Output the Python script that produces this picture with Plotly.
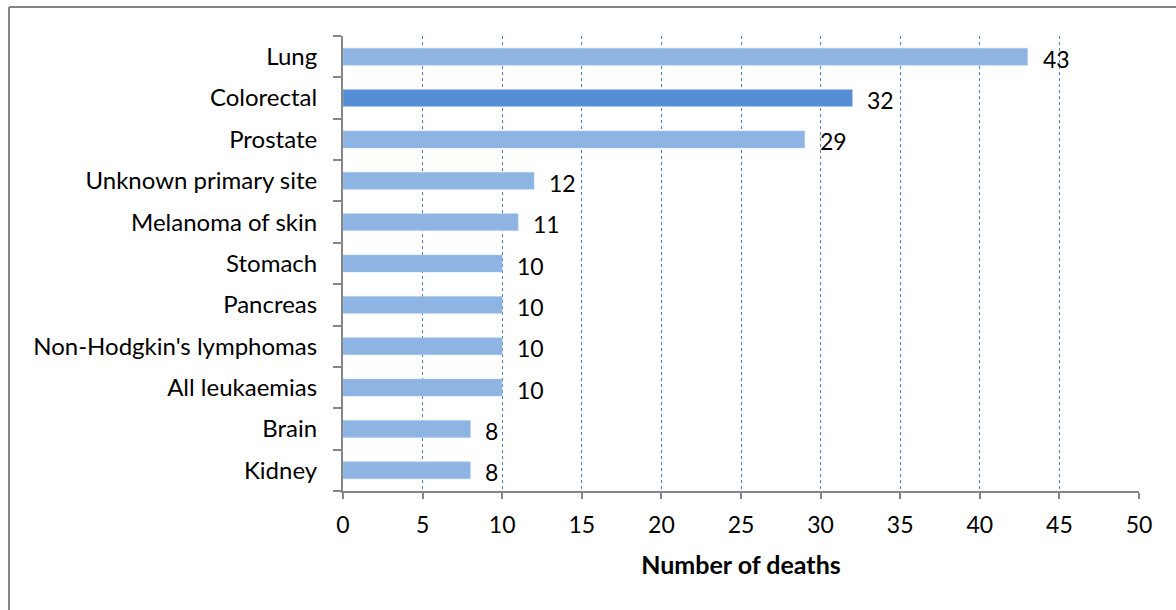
import plotly.graph_objects as go

# Cancer deaths by site
sites = ["Lung", "Colorectal", "Prostate", "Unknown primary site", "Melanoma of skin",
         "Stomach", "Pancreas", "Non-Hodgkin's lymphomas", "All leukaemias", "Brain", "Kidney"]
deaths = [43, 32, 29, 12, 11, 10, 10, 10, 10, 8, 8]
highlight = "Colorectal"
x_ticks = list(range(0, 55, 5))

LIGHT = "#8DB4E2"
DARK = "#558ED5"
FONT = "Lato"

colors = [DARK if s == highlight else LIGHT for s in sites]

fig = go.Figure()
fig.add_trace(go.Bar(
    x=deaths, y=sites, orientation="h",
    marker=dict(color=colors, line=dict(color="#A9C6EA", width=0.5)),
    width=0.41, hoverinfo="x+y",
))

# value labels to the right of each bar
for s, v in zip(sites, deaths):
    fig.add_annotation(x=v, y=s, text=str(v), showarrow=False,
                       xanchor="left", xshift=13, yshift=-2,
                       font=dict(family=FONT, size=23, color="#000000"))

# frame around the chart area
fig.add_shape(type="line", xref="paper", yref="paper",
              x0=-0.4196, x1=1.1, y0=1.0637, y1=1.0637,
              line=dict(color="#868686", width=2))
fig.add_shape(type="line", xref="paper", yref="paper",
              x0=-0.4196, x1=-0.4196, y0=1.0637, y1=-0.3,
              line=dict(color="#868686", width=2))

fig.update_layout(
    width=1176, height=610,
    margin=dict(l=343, r=37, t=36, b=119),
    paper_bgcolor="white", plot_bgcolor="white",
    showlegend=False,
    font=dict(family=FONT, size=23, color="#000000"),
    xaxis=dict(
        range=[0, 50], tickvals=x_ticks, ticktext=[str(t) for t in x_ticks],
        showgrid=True, gridcolor="#4F81BD", gridwidth=1, griddash="dot",
        showline=True, linecolor="#868686", linewidth=2,
        ticks="outside", ticklen=6, tickwidth=2, tickcolor="#868686",
        ticklabelstandoff=6,
        tickfont=dict(family=FONT, size=23),
        zeroline=False,
        title=dict(text="<b>Number of deaths</b>", standoff=20,
                   font=dict(family=FONT, size=25)),
    ),
    yaxis=dict(
        categoryorder="array", categoryarray=sites[::-1],
        autorange=True,
        showline=True, linecolor="#868686", linewidth=2,
        ticks="outside", ticklen=8, tickwidth=2, tickcolor="#868686",
        tickson="boundaries",
        ticklabelstandoff=19,
        tickfont=dict(family=FONT, size=24),
        showgrid=False, zeroline=False,
    ),
)

fig.write_html("out.html")
